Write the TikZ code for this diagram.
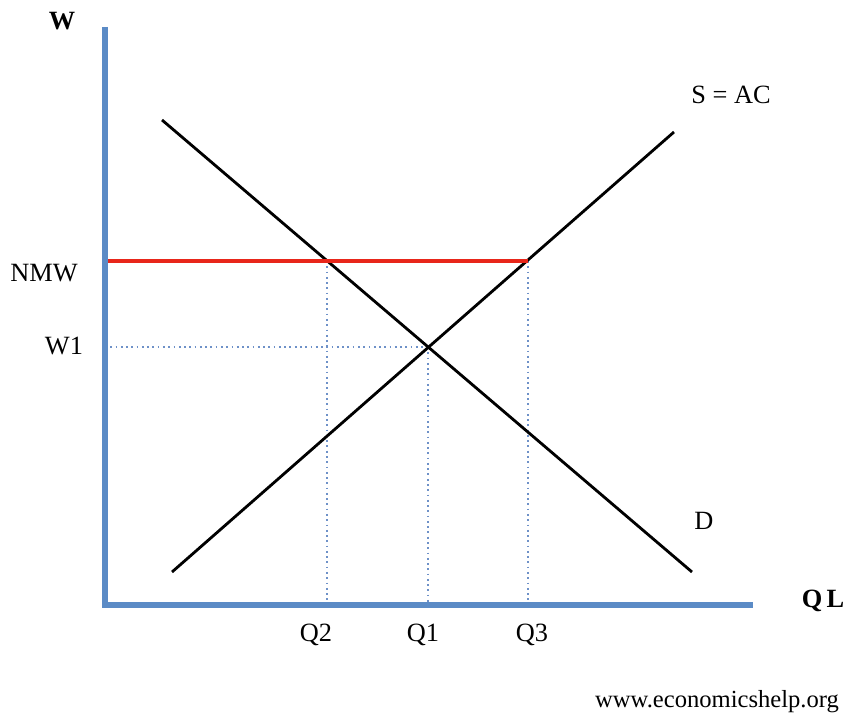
\documentclass[tikz,border=0pt]{standalone}
\usepackage{fontspec}
\setmainfont{Liberation Serif}
\usepackage{tikz}
\usetikzlibrary{positioning}
\definecolor{axisblue}{RGB}{91,139,198}
\definecolor{dotblue}{RGB}{110,145,200}
\definecolor{nmwred}{RGB}{232,38,26}

\begin{document}
\begin{tikzpicture}[x=0.02cm, y=-0.02cm,
  ax/.style    = {draw=axisblue, line width=3.4pt},
  curve/.style = {draw=black, line width=1.6pt},
  floor/.style = {draw=nmwred, line width=2.8pt},
  guide/.style = {draw=dotblue, line width=1pt, dotted},
  lbl/.style   = {font=\fontsize{15}{18}\selectfont, inner sep=0pt},
  blbl/.style  = {lbl, font=\fontsize{15}{18}\selectfont\bfseries}]

\useasboundingbox (0,0) rectangle (845,715);

% --- points -----------------------------------------------------------
\coordinate (O)   at (105,605);
\coordinate (Wt)  at (105,27);
\coordinate (Qe)  at (753,605);
\coordinate (D0)  at (162,120);
\coordinate (D1)  at (692,572);
\coordinate (S0)  at (172,572);
\coordinate (S1)  at (674,132);
\coordinate (E)   at (428,347);
\coordinate (A)   at (327,261);
\coordinate (B)   at (528,261);
\coordinate (NMW) at (105,261);
\coordinate (W1)  at (105,347);
\coordinate (q2)  at (327,605);
\coordinate (q1)  at (428,605);
\coordinate (q3)  at (528,605);

% --- guides -----------------------------------------------------------
\draw[guide] (W1)--(E);
\draw[guide] (A)--(q2);
\draw[guide] (E)--(q1);
\draw[guide] (B)--(q3);

% --- curves -----------------------------------------------------------
\draw[curve] (D0)--(D1);
\draw[curve] (S0)--(S1);
\draw[floor] (NMW)--(B);

% --- axes -------------------------------------------------------------
\draw[ax] (Wt)--(105,608);
\draw[ax] (102,605)--(Qe);

% --- labels -----------------------------------------------------------
\node[blbl] (lW)   at (62,21)   {W};
\node[blbl] (lQL)  at (823,601) {Q\,L};
\node[lbl]  (lNMW) at (44,273)  {NMW};
\node[lbl]  (lW1)  at (64,346)  {W1};
\node[lbl]  (lQ2)  at (316,635) {Q2};
\node[lbl]  (lQ1)  at (423,635) {Q1};
\node[lbl]  (lQ3)  at (532,635) {Q3};
\node[lbl]  (lS)   at (731,95)  {S = AC};
\node[lbl]  (lD)   at (704,521) {D};
\node[lbl, font=\fontsize{14}{16}\selectfont] (web) at (717,702) {www.economicshelp.org};
\end{tikzpicture}
\end{document}
